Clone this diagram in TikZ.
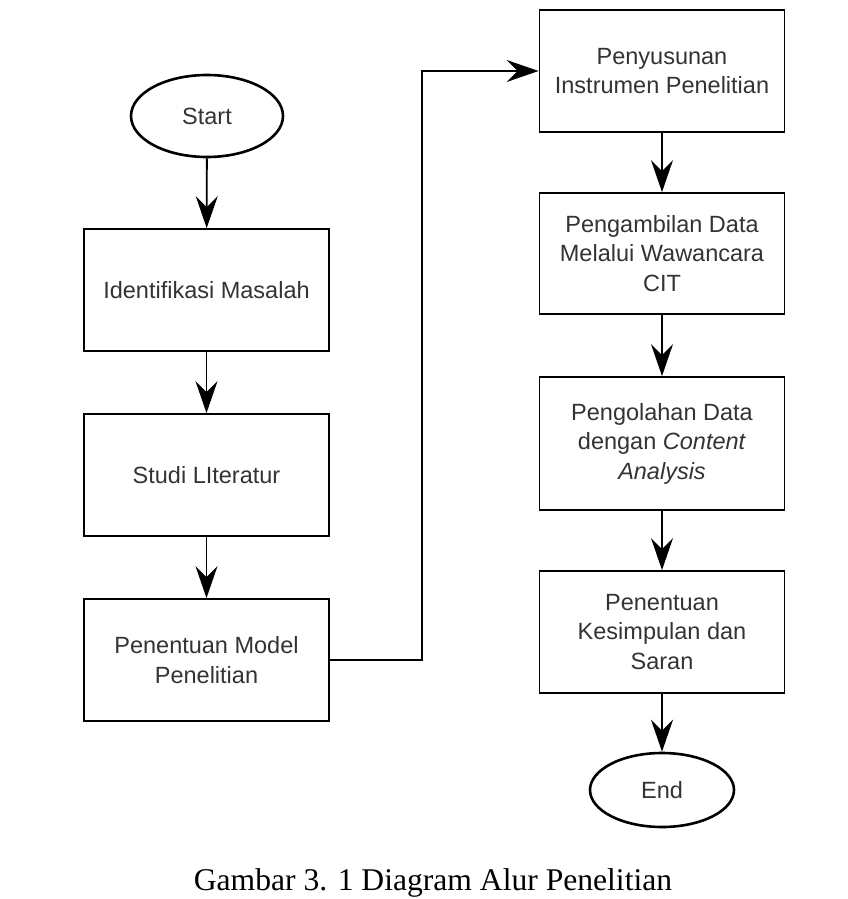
\documentclass[tikz,border=0pt]{standalone}
\usepackage{fontspec}
\setmainfont{Liberation Sans}
\newfontfamily\captionfont{Liberation Serif}
\usepackage{xcolor}
\usetikzlibrary{arrows.meta}
\usetikzlibrary{shapes.geometric, positioning, math}
\definecolor{mytext}{RGB}{51, 51, 51}

\begin{document}
\begin{tikzpicture}[x=1pt, y=-1pt,
  flowbox/.style={draw, line width=1.8pt, rectangle, minimum width=245pt, minimum height=122pt, inner sep=0pt, align=center, text=mytext, font=\fontsize{23.5}{29.5}\selectfont},
  terminal/.style={draw, line width=2.6pt, ellipse, inner sep=0pt, text=mytext, font=\fontsize{23.5}{29.5}\selectfont},
  flow/.style={line width=1.8pt, -{Stealth[length=32pt, width=22pt, inset=11pt]}}
]
\tikzmath{
\xl=206.5;
\xr=662;
\xm=422;
}
\useasboundingbox (0,0) rectangle (847,899);

% left column
\node[terminal, minimum width=152pt, minimum height=82pt] (start) at (207,116) {Start};
\node[flowbox] (masalah) at (\xl,290) {Identifikasi Masalah};
\node[flowbox] (literatur) at (\xl,475) {Studi LIteratur};
\node[flowbox] (model) at (\xl,660) {Penentuan Model\\Penelitian};

% right column
\node[flowbox] (instrumen) at (\xr,71) {Penyusunan\\Instrumen Penelitian};
\node[flowbox, minimum height=121pt] (wawancara) at (\xr,253.5) {Pengambilan Data\\Melalui Wawancara\\CIT};
\node[flowbox, minimum height=133pt] (olah) at (\xr,443.5) {Pengolahan Data\\dengan \textit{Content}\\\textit{Analysis}};
\node[flowbox] (simpulan) at (\xr,632) {Penentuan\\Kesimpulan dan\\Saran};
\node[terminal, minimum width=144pt, minimum height=74pt] (end) at (\xr,790) {End};

\coordinate (elbow) at (\xm,0);

\draw[flow] (start) -- (masalah);
\draw[flow] (masalah) -- (literatur);
\draw[flow] (literatur) -- (model);
\draw[flow] (model.east) -- (model.east -| elbow) |- (instrumen.west);
\draw[flow] (instrumen) -- (wawancara);
\draw[flow] (wawancara) -- (olah);
\draw[flow] (olah) -- (simpulan);
\draw[flow] (simpulan) -- (end);

\node[anchor=base, inner sep=0pt, font=\captionfont\fontsize{31.6}{36}\selectfont] (caption) at (433,890) {Gambar 3. 1 Diagram Alur Penelitian};
\end{tikzpicture}
\end{document}
